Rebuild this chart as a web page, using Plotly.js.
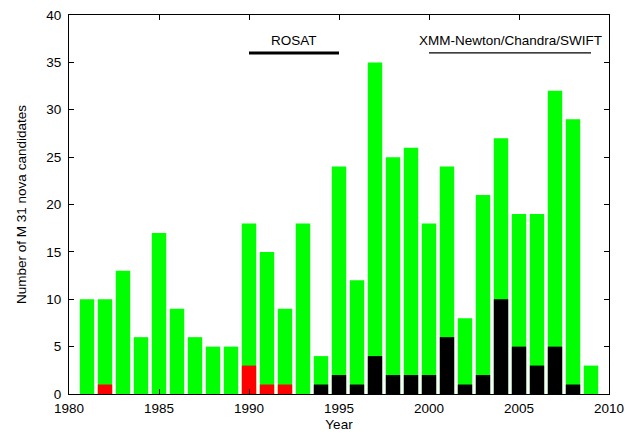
<!DOCTYPE html>
<html>
<head>
<meta charset="utf-8">
<script src="https://cdn.plot.ly/plotly-3.0.1.min.js"></script>
<style>html,body{margin:0;padding:0;background:#fff;}#chart{width:632px;height:436px;}</style>
</head>
<body>
<div id="chart"></div>
<script>
var years = [1981,1982,1983,1984,1985,1986,1987,1988,1989,1990,1991,1992,1993,1994,1995,1996,1997,1998,1999,2000,2001,2002,2003,2004,2005,2006,2007,2008,2009];
var totalCounts = [10,10,13,6,17,9,6,5,5,18,15,9,18,4,24,12,35,25,26,18,24,8,21,27,19,19,32,29,3];
var redYears = [1982,1990,1991,1992];
var redCounts = [1,3,1,1];
var blackYears = [1994,1995,1996,1997,1998,1999,2000,2001,2002,2003,2004,2005,2006,2007,2008];
var blackCounts = [1,2,1,4,2,2,2,6,1,2,10,5,3,5,1];
var missionNames = ['ROSAT','XMM-Newton/Chandra/SWIFT'];
var missionStart = [1990,2000];
var missionEnd = [1995,2009];
var missionLevel = [36,36];
var missionLabelLevel = [36.3,36.3];
var missionLineWidth = [3,1.3];
var xTicks = [1980,1985,1990,1995,2000,2005,2010];
var yTicks = [0,5,10,15,20,25,30,35,40];

var font = {family:'"Liberation Sans", Arial, Helvetica, sans-serif', size:13.5, color:'#000'};
var barW = 0.8;
var traces = [
  {type:'bar', x:years, y:totalCounts, width:barW, marker:{color:'#00ff00', line:{width:0}}, hoverinfo:'x+y'},
  {type:'bar', x:redYears, y:redCounts, width:barW, marker:{color:'#ff0000', line:{width:0}}, hoverinfo:'x+y'},
  {type:'bar', x:blackYears, y:blackCounts, width:barW, marker:{color:'#000000', line:{width:0}}, hoverinfo:'x+y'}
];
var shapes = [], annotations = [];
for (var i=0;i<missionNames.length;i++){
  shapes.push({type:'line', xref:'x', yref:'y', x0:missionStart[i], x1:missionEnd[i], y0:missionLevel[i], y1:missionLevel[i], line:{color:'#000', width:missionLineWidth[i]}});
  annotations.push({xref:'x', yref:'y', x:(missionStart[i]+missionEnd[i])/2, y:missionLabelLevel[i], text:missionNames[i], showarrow:false, yanchor:'bottom', font:font});
}
var layout = {
  width:632, height:436,
  margin:{l:69, r:23, t:15, b:42},
  paper_bgcolor:'#fff', plot_bgcolor:'#fff',
  barmode:'overlay', showlegend:false, font:font,
  xaxis:{range:[1980,2010], tickvals:xTicks, ticktext:xTicks.map(String), ticks:'inside', ticklen:5, tickcolor:'#000', showline:true, linecolor:'#000', linewidth:1, mirror:'ticks', showgrid:false, zeroline:false, ticklabelstandoff:2, title:{text:'Year', font:font, standoff:4}, tickfont:font},
  yaxis:{range:[0,40], tickvals:yTicks, ticktext:yTicks.map(String), ticks:'inside', ticklen:5, tickcolor:'#000', showline:true, linecolor:'#000', linewidth:1, mirror:'ticks', showgrid:false, zeroline:false, ticklabelstandoff:4, title:{text:'Number of M 31 nova candidates', font:font, standoff:16}, tickfont:font},
  shapes:shapes, annotations:annotations
};
Plotly.newPlot('chart', traces, layout, {staticPlot:true});
</script>
</body>
</html>
